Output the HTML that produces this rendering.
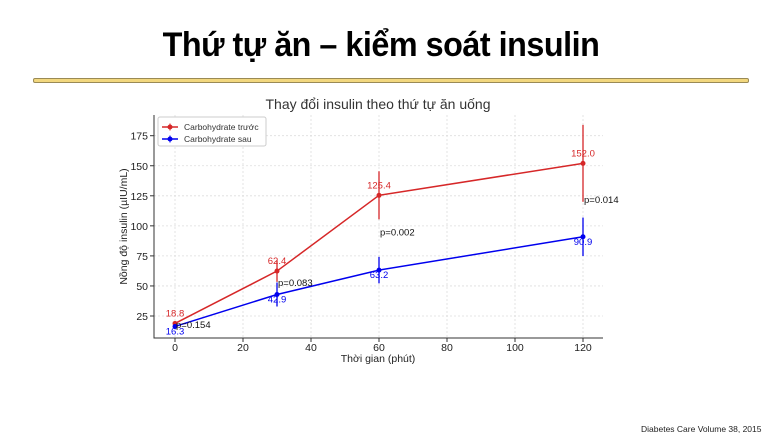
<!DOCTYPE html>
<html><head><meta charset="utf-8"><style>
body{margin:0;width:780px;height:439px;background:#fff;overflow:hidden;position:relative;font-family:"Liberation Sans","DejaVu Sans",sans-serif}
#title{position:absolute;left:-9px;width:780px;top:26px;text-align:center;font-size:34px;font-weight:bold;color:#000;letter-spacing:-0.5px;transform:scaleX(0.95)}
#sep{position:absolute;left:33px;top:78px;width:714px;height:3px;background:#f2d77e;border:1px solid #9a8a55;border-radius:2px}
#foot{position:absolute;left:641px;top:424px;font-size:8.5px;color:#222}
svg{position:absolute;left:0;top:0}
</style></head><body>
<div id="title">Thứ tự ăn – kiểm soát insulin</div>
<div id="sep"></div>
<div id="foot">Diabetes Care Volume 38, 2015</div>
<svg id="chart" width="780" height="439"></svg>
<script>
const times=[0,30,60,120];
const redVals=[18.8,62.4,125.4,152.0];
const redErr=[2,9,20,32];
const blueVals=[16.3,42.9,63.2,90.9];
const blueErr=[2,10,11,16];
const pLabels=["p=0.154","p=0.083","p=0.002","p=0.014"];
const xTicks=[0,20,40,60,80,100,120];
const yTicks=[25,50,75,100,125,150,175];
const L=154,R=603,T=115,B=338;
const X=v=>175+v*(583-175)/120;
const Y=v=>316-(v-25)*(316-135.7)/150;
const svg=document.getElementById('chart');
const NS='http://www.w3.org/2000/svg';
function mk(t,a,p){const e=document.createElementNS(NS,t);for(const k in a)e.setAttribute(k,a[k]);(p||svg).appendChild(e);return e;}
function txt(s,x,y,a,p){const e=mk('text',Object.assign({x:x,y:y,'font-size':10.5,fill:'#222'},a),p);e.textContent=s;return e;}
const ct=txt('Thay đổi insulin theo thứ tự ăn uống',378,109,{'font-size':14,'text-anchor':'middle','fill':'#333'});

xTicks.forEach(v=>{const g=mk('line',{x1:X(v),x2:X(v),y1:T,y2:B,stroke:'#ddd','stroke-dasharray':'2,2','stroke-width':0.8});

mk('line',{x1:X(v),x2:X(v),y1:B,y2:B+4,stroke:'#333'});
const t=txt(v,X(v),B+13,{'text-anchor':'middle'});});
yTicks.forEach(v=>{const g=mk('line',{x1:L,x2:R,y1:Y(v),y2:Y(v),stroke:'#ddd','stroke-dasharray':'2,2','stroke-width':0.8});

mk('line',{x1:L-4,x2:L,y1:Y(v),y2:Y(v),stroke:'#333'});
const t=txt(v,L-6,Y(v)+4,{'text-anchor':'end'});});
const ax=mk('path',{d:`M${L},${T}V${B}H${R}`,fill:'none',stroke:'#333','stroke-width':1});

const xt=txt('Thời gian (phút)',378,362,{'text-anchor':'middle'});
const yt=txt('Nồng độ insulin (µIU/mL)',0,0,{'text-anchor':'middle',transform:`translate(127,${(T+B)/2}) rotate(-90)`});

function series(vals,err,col,name,lblDy){
const g=mk('g',{});
const l=mk('polyline',{points:times.map((t,i)=>X(t)+','+Y(vals[i])).join(' '),fill:'none',stroke:col,'stroke-width':1.5},g);

times.forEach((t,i)=>{const e=mk('line',{x1:X(t),x2:X(t),y1:Y(vals[i]+err[i]),y2:Y(vals[i]-err[i]),stroke:col,'stroke-width':1.3},g);

const c=mk('circle',{cx:X(t),cy:Y(vals[i]),r:2.5,fill:col},g);
const lb=txt(vals[i].toFixed(1),X(t),Y(vals[i])+lblDy,{'text-anchor':'middle',fill:col,'font-size':9.5});
});
}
series(redVals,redErr,'#d62728','series-carb-before',-7);
series(blueVals,blueErr,'#0000ee','series-carb-after',8);
times.forEach((t,i)=>{const p=txt(pLabels[i],X(t)+1,Y((redVals[i]+blueVals[i])/2)+3,{'font-size':9.5,fill:'#111'});
});
const lg=mk('g',{});
mk('rect',{x:158,y:117,width:108,height:29,fill:'#fff',stroke:'#ccc',rx:2},lg);
[['Carbohydrate trước','#d62728',127],['Carbohydrate sau','#0000ee',139]].forEach(([s,c,y])=>{
const e=mk('g',{},lg);
mk('line',{x1:162,x2:178,y1:y,y2:y,stroke:c,'stroke-width':1.5},e);
mk('circle',{cx:170,cy:y,r:2.5,fill:c},e);
mk('line',{x1:170,x2:170,y1:y-3.5,y2:y+3.5,stroke:c},e);
txt(s,184,y+3,{'font-size':8.5,fill:'#333'},e);});
</script>
</body></html>
